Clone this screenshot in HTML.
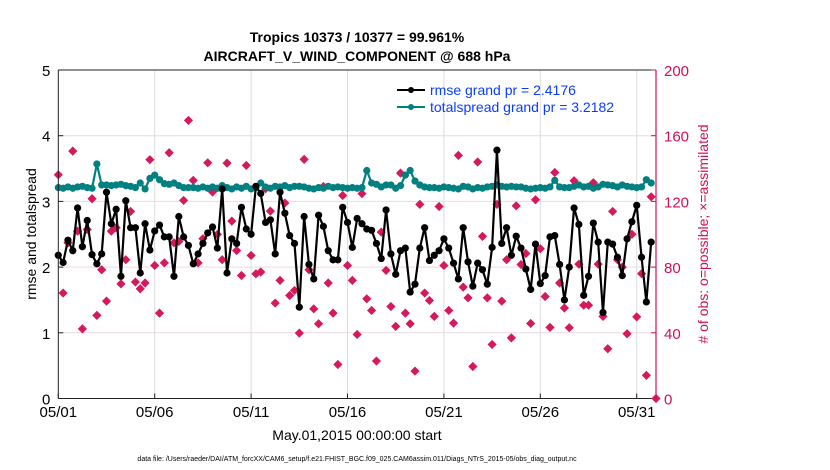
<!DOCTYPE html>
<html><head><meta charset="utf-8"><style>
body{margin:0;background:#fff;}
svg{display:block;font-family:"Liberation Sans",sans-serif;}
</style></head><body>
<svg id="chart" width="830" height="470" viewBox="0 0 830 470">
<rect width="830" height="470" fill="#fff"/>
<text x="357" y="42" text-anchor="middle" font-size="14" font-weight="bold">Tropics 10373 / 10377 = 99.961%</text>
<text x="357" y="61" text-anchor="middle" font-size="14" font-weight="bold">AIRCRAFT_V_WIND_COMPONENT @ 688 hPa</text>
<g id="grid"></g>
<g id="series"></g>
<g id="axes"></g>
<text transform="translate(36,234) rotate(-90)" text-anchor="middle" font-size="14">rmse and totalspread</text>
<text transform="translate(708,234) rotate(-90)" text-anchor="middle" font-size="14" fill="#d0105a"># of obs: o=possible; ×=assimilated</text>
<text x="357" y="440" text-anchor="middle" font-size="14">May.01,2015 00:00:00 start</text>
<text x="357" y="461" text-anchor="middle" font-size="7">data file: /Users/raeder/DAI/ATM_forcXX/CAM6_setup/f.e21.FHIST_BGC.f09_025.CAM6assim.011/Diags_NTrS_2015-05/obs_diag_output.nc</text>
<g>
<line x1="397" y1="90" x2="425" y2="90" stroke="#000" stroke-width="2"/><circle cx="411" cy="90" r="3" fill="#000"/>
<text x="430" y="95" font-size="14" fill="#0a3cff">rmse grand pr = 2.4176</text>
<line x1="397" y1="107" x2="425" y2="107" stroke="#008080" stroke-width="2"/><circle cx="411" cy="107" r="3" fill="#008080"/>
<text x="430" y="112" font-size="14" fill="#0a3cff">totalspread grand pr = 3.2182</text>
</g>
</svg>
<script>
const rmse=[2.18,2.07,2.41,2.25,2.90,2.31,2.71,2.19,2.05,2.20,3.14,2.66,2.88,1.86,3.01,2.60,2.60,1.91,2.66,2.26,2.55,2.64,2.46,2.46,1.86,2.77,2.46,2.33,2.05,2.20,2.36,2.52,
2.61,2.29,3.19,1.91,2.43,2.36,2.91,2.58,2.50,3.23,3.12,2.68,2.72,2.20,3.14,2.82,2.48,2.36,1.39,2.77,2.04,1.82,2.79,2.62,2.25,2.11,2.11,2.91,2.68,2.30,2.74,
2.66,2.58,2.56,2.36,2.13,2.87,2.20,1.89,2.25,2.29,1.62,1.74,2.29,2.60,2.10,2.18,2.25,2.43,2.29,2.06,1.82,2.60,2.08,1.71,2.06,1.96,1.74,2.30,3.78,2.36,2.60,
2.18,2.47,2.29,1.97,1.66,2.35,1.75,1.87,2.46,2.48,2.04,1.50,2.00,2.90,2.65,1.57,1.86,2.67,2.38,1.31,2.38,2.35,2.15,1.87,2.43,2.69,2.94,2.15,1.47,2.38];
const spread=[3.21,3.20,3.22,3.20,3.22,3.23,3.21,3.20,3.57,3.25,3.25,3.24,3.25,3.26,3.24,3.23,3.21,3.28,3.19,3.35,3.40,3.33,3.27,3.26,3.28,3.24,3.21,3.21,3.21,3.20,3.22,3.20,
3.22,3.20,3.24,3.21,3.19,3.22,3.20,3.23,3.19,3.21,3.28,3.22,3.20,3.23,3.22,3.24,3.21,3.23,3.23,3.22,3.20,3.19,3.21,3.20,3.23,3.21,3.22,3.21,3.20,3.21,3.20,
3.21,3.47,3.28,3.26,3.22,3.25,3.25,3.20,3.24,3.40,3.47,3.31,3.25,3.22,3.21,3.21,3.20,3.22,3.21,3.20,3.19,3.23,3.22,3.19,3.21,3.20,3.22,3.23,3.25,3.23,3.22,
3.23,3.22,3.22,3.20,3.19,3.20,3.21,3.20,3.22,3.32,3.22,3.21,3.21,3.23,3.25,3.22,3.23,3.20,3.22,3.26,3.25,3.24,3.22,3.25,3.23,3.22,3.21,3.22,3.33,3.28];
const obsCount=[136.2,64.2,94.8,150.6,101.9,42.4,102.9,121.6,50.6,78.4,59.3,101.9,104,69.8,84.5,113.9,70.9,66.8,70.3,145.4,81,52,82.6,149.6,94.8,95.6,120.6,169.3,132.8,82.6,97.3,143.5,
125.7,99.9,84.5,143.3,108,90.1,74.9,141.9,87.1,75.9,77,127.7,114.1,58.1,71.9,119,62.7,65.8,39.8,145.6,78.4,54.6,45.5,129.1,70.3,52,20.7,123.6,81,71.9,39,
124.7,60.7,53.6,22.8,101.3,78,56,43.9,137.2,52,45.5,16.7,118.2,64.2,59.7,50,116.9,81,53.6,45.9,148,67.8,61.3,19.5,144,98.7,61.3,32.9,118.2,59.3,84.5,
36.9,117.3,81.6,88.3,45.7,121,91.2,62.1,43.3,137.6,70.3,55.1,43.1,132.6,81.8,56.8,56.8,131.4,81.8,50,30.3,113.9,84.5,80,39.4,100,49.7,76,14.1,122.8,0];
const leftTicks=[0,1,2,3,4,5];
const rightTicks=[0,40,80,120,160,200];
const dateTicks=[0,5,10,15,20,25,30];
const dateLabels=["05/01","05/06","05/11","05/16","05/21","05/26","05/31"];

const NS="http://www.w3.org/2000/svg";
const X0=58.3,X1=656,Y0=398.5,Y1=70,DAYS=31;
const xDay=d=>X0+(X1-X0)*d/DAYS;
const xIdx=i=>xDay(i*0.25);
const yL=v=>Y0-(Y0-Y1)*v/5;
const yR=v=>Y0-(Y0-Y1)*v/200;
function mk(tag,attrs,parent){const e=document.createElementNS(NS,tag);for(const k in attrs)e.setAttribute(k,attrs[k]);parent.appendChild(e);return e;}
const grid=document.getElementById('grid'),ser=document.getElementById('series'),ax=document.getElementById('axes');
leftTicks.forEach(t=>{if(t>0&&t<5){const l=mk('line',{x1:X0,x2:X1,y1:yL(t),y2:yL(t),stroke:'#f0d8e2','stroke-width':1},grid);

}});
dateTicks.forEach(d=>{if(d>0){const l=mk('line',{x1:xDay(d),x2:xDay(d),y1:Y1,y2:Y0,stroke:'#dcdcdc','stroke-width':1},grid);

}});
// series
function line(vals,fy,color,name){const p=mk('polyline',{points:vals.map((v,i)=>xIdx(i)+','+fy(v)).join(' '),fill:'none',stroke:color,'stroke-width':2.2},ser);


vals.forEach((v,i)=>{const c=mk('circle',{cx:xIdx(i),cy:fy(v),r:3.6,fill:color},ser);

});}
obsCount.forEach((v,i)=>{const x=Math.min(xIdx(i),X1),y=yR(v),s=4.6;
const d=mk('polygon',{points:`${x},${y-s} ${x+s},${y} ${x},${y+s} ${x-s},${y}`,fill:'#d6185e'},ser);

});
line(spread,yL,'#008080','totalspread');
line(rmse,yL,'#000','rmse');
// axes
const la=mk('line',{x1:X0,x2:X0,y1:Y1,y2:Y0,stroke:'#222','stroke-width':1},ax);


const ba=mk('line',{x1:X0,x2:X1,y1:Y0,y2:Y0,stroke:'#222','stroke-width':1},ax);


const ta=mk('line',{x1:X0,x2:X1,y1:Y1,y2:Y1,stroke:'#222','stroke-width':1},ax);


const ra=mk('line',{x1:X1,x2:X1,y1:Y1,y2:Y0,stroke:'#d0105a','stroke-width':1.2},ax);


leftTicks.forEach(t=>{mk('line',{x1:X0,x2:X0+5,y1:yL(t),y2:yL(t),stroke:'#222'},ax);
const tx=mk('text',{x:X0-8,y:yL(t)+6,'text-anchor':'end','font-size':15},ax);tx.textContent=t;

});
rightTicks.forEach(t=>{mk('line',{x1:X1-5,x2:X1,y1:yR(t),y2:yR(t),stroke:'#d0105a'},ax);
const tx=mk('text',{x:X1+8,y:yR(t)+6,'text-anchor':'start','font-size':15,fill:'#d0105a'},ax);tx.textContent=t;

});
dateTicks.forEach((d,i)=>{mk('line',{x1:xDay(d),x2:xDay(d),y1:Y0-5,y2:Y0,stroke:'#222'},ax);
const tx=mk('text',{x:xDay(d),y:417,'text-anchor':'middle','font-size':15},ax);tx.textContent=dateLabels[i];

});
</script>
</body></html>
